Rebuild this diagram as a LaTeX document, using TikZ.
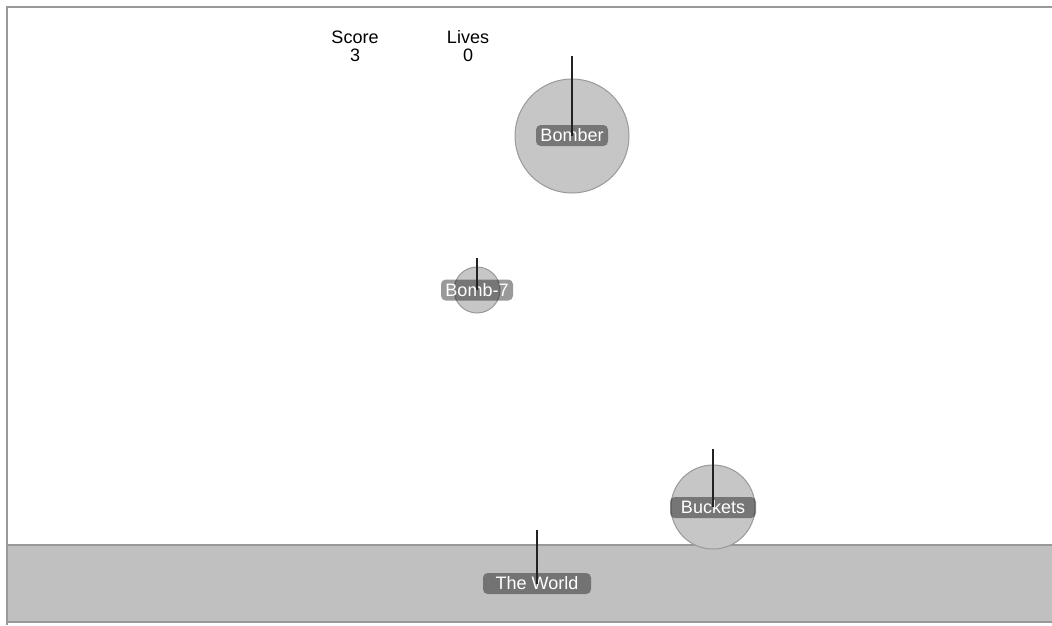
\documentclass[tikz,border=0pt]{standalone}
\usepackage{fontspec}
\setmainfont{Liberation Sans}
\definecolor{framegray}{HTML}{999999}
\definecolor{ballgray}{HTML}{C6C6C6}
\definecolor{groundgray}{HTML}{C0C0C0}
\definecolor{polegray}{HTML}{222222}
\tikzset{
    ball/.style={circle, draw=framegray, fill=ballgray, line width=0.75pt, inner sep=0pt},
    tag/.style={rounded corners=3.5pt, fill=black, fill opacity=0.4, text opacity=1,
        text=white, inner sep=0pt, minimum height=15.75pt,
        font=\fontsize{13.5}{15}\selectfont},
    hud/.style={anchor=base, inner sep=0pt, font=\fontsize{13.5}{15}\selectfont},
    pole/.style={draw=polegray, line width=1pt}
}
\begin{document}
\begin{tikzpicture}[x=0.75pt, y=-0.75pt]
    \useasboundingbox (0,0) rectangle (1052,625);

    % ground and frame
    \fill[groundgray] (7,545) rectangle (1052,622);
    \draw[framegray, line width=1pt] (7,545) -- (1052,545);
    \draw[framegray, line width=1pt] (7,622) -- (1052,622);
    \draw[framegray, line width=1.2pt] (1052,7) -- (7,7) -- (7,625);

    % score and lives
    \node[hud, name=scorelbl] at (355,43.5) {Score};
    \node[hud, name=scoreval] at (355,61) {3};
    \node[hud, name=liveslbl] at (468,43.5) {Lives};
    \node[hud, name=livesval] at (468,61) {0};

    % bodies
    \node[
        ball,
        minimum size=85.5pt,
        name=bomber
    ] at (572,136) {};
    \node[
        ball,
        minimum size=34.5pt,
        name=bomb
    ] at (477,290) {};
    \node[
        ball,
        minimum size=63pt,
        name=buckets
    ] at (713,507) {};

    % tags
    \node[tag, minimum width=54pt, name=bomberlbl] at (572,135.5) {Bomber};
    \node[tag, minimum width=54pt, name=bomblbl] at (477,290) {Bomb-7};
    \node[tag, minimum width=64.5pt, name=bucketslbl] at (713,507.5) {Buckets};
    \node[tag, minimum width=81pt, name=worldlbl] at (537,583.5) {The World};

    % poles
    \coordinate (bombertop) at (572,56);
    \coordinate (bombtop) at (477,258);
    \coordinate (bucketstop) at (713,449);
    \coordinate (worldtop) at (537,530);

    \draw[pole] (bombertop) -- (bomber.center);
    \draw[pole] (bombtop) -- (bomb.center);
    \draw[pole] (bucketstop) -- (buckets.center);
    \draw[pole] (worldtop) -- (worldlbl.center);
\end{tikzpicture}
\end{document}
